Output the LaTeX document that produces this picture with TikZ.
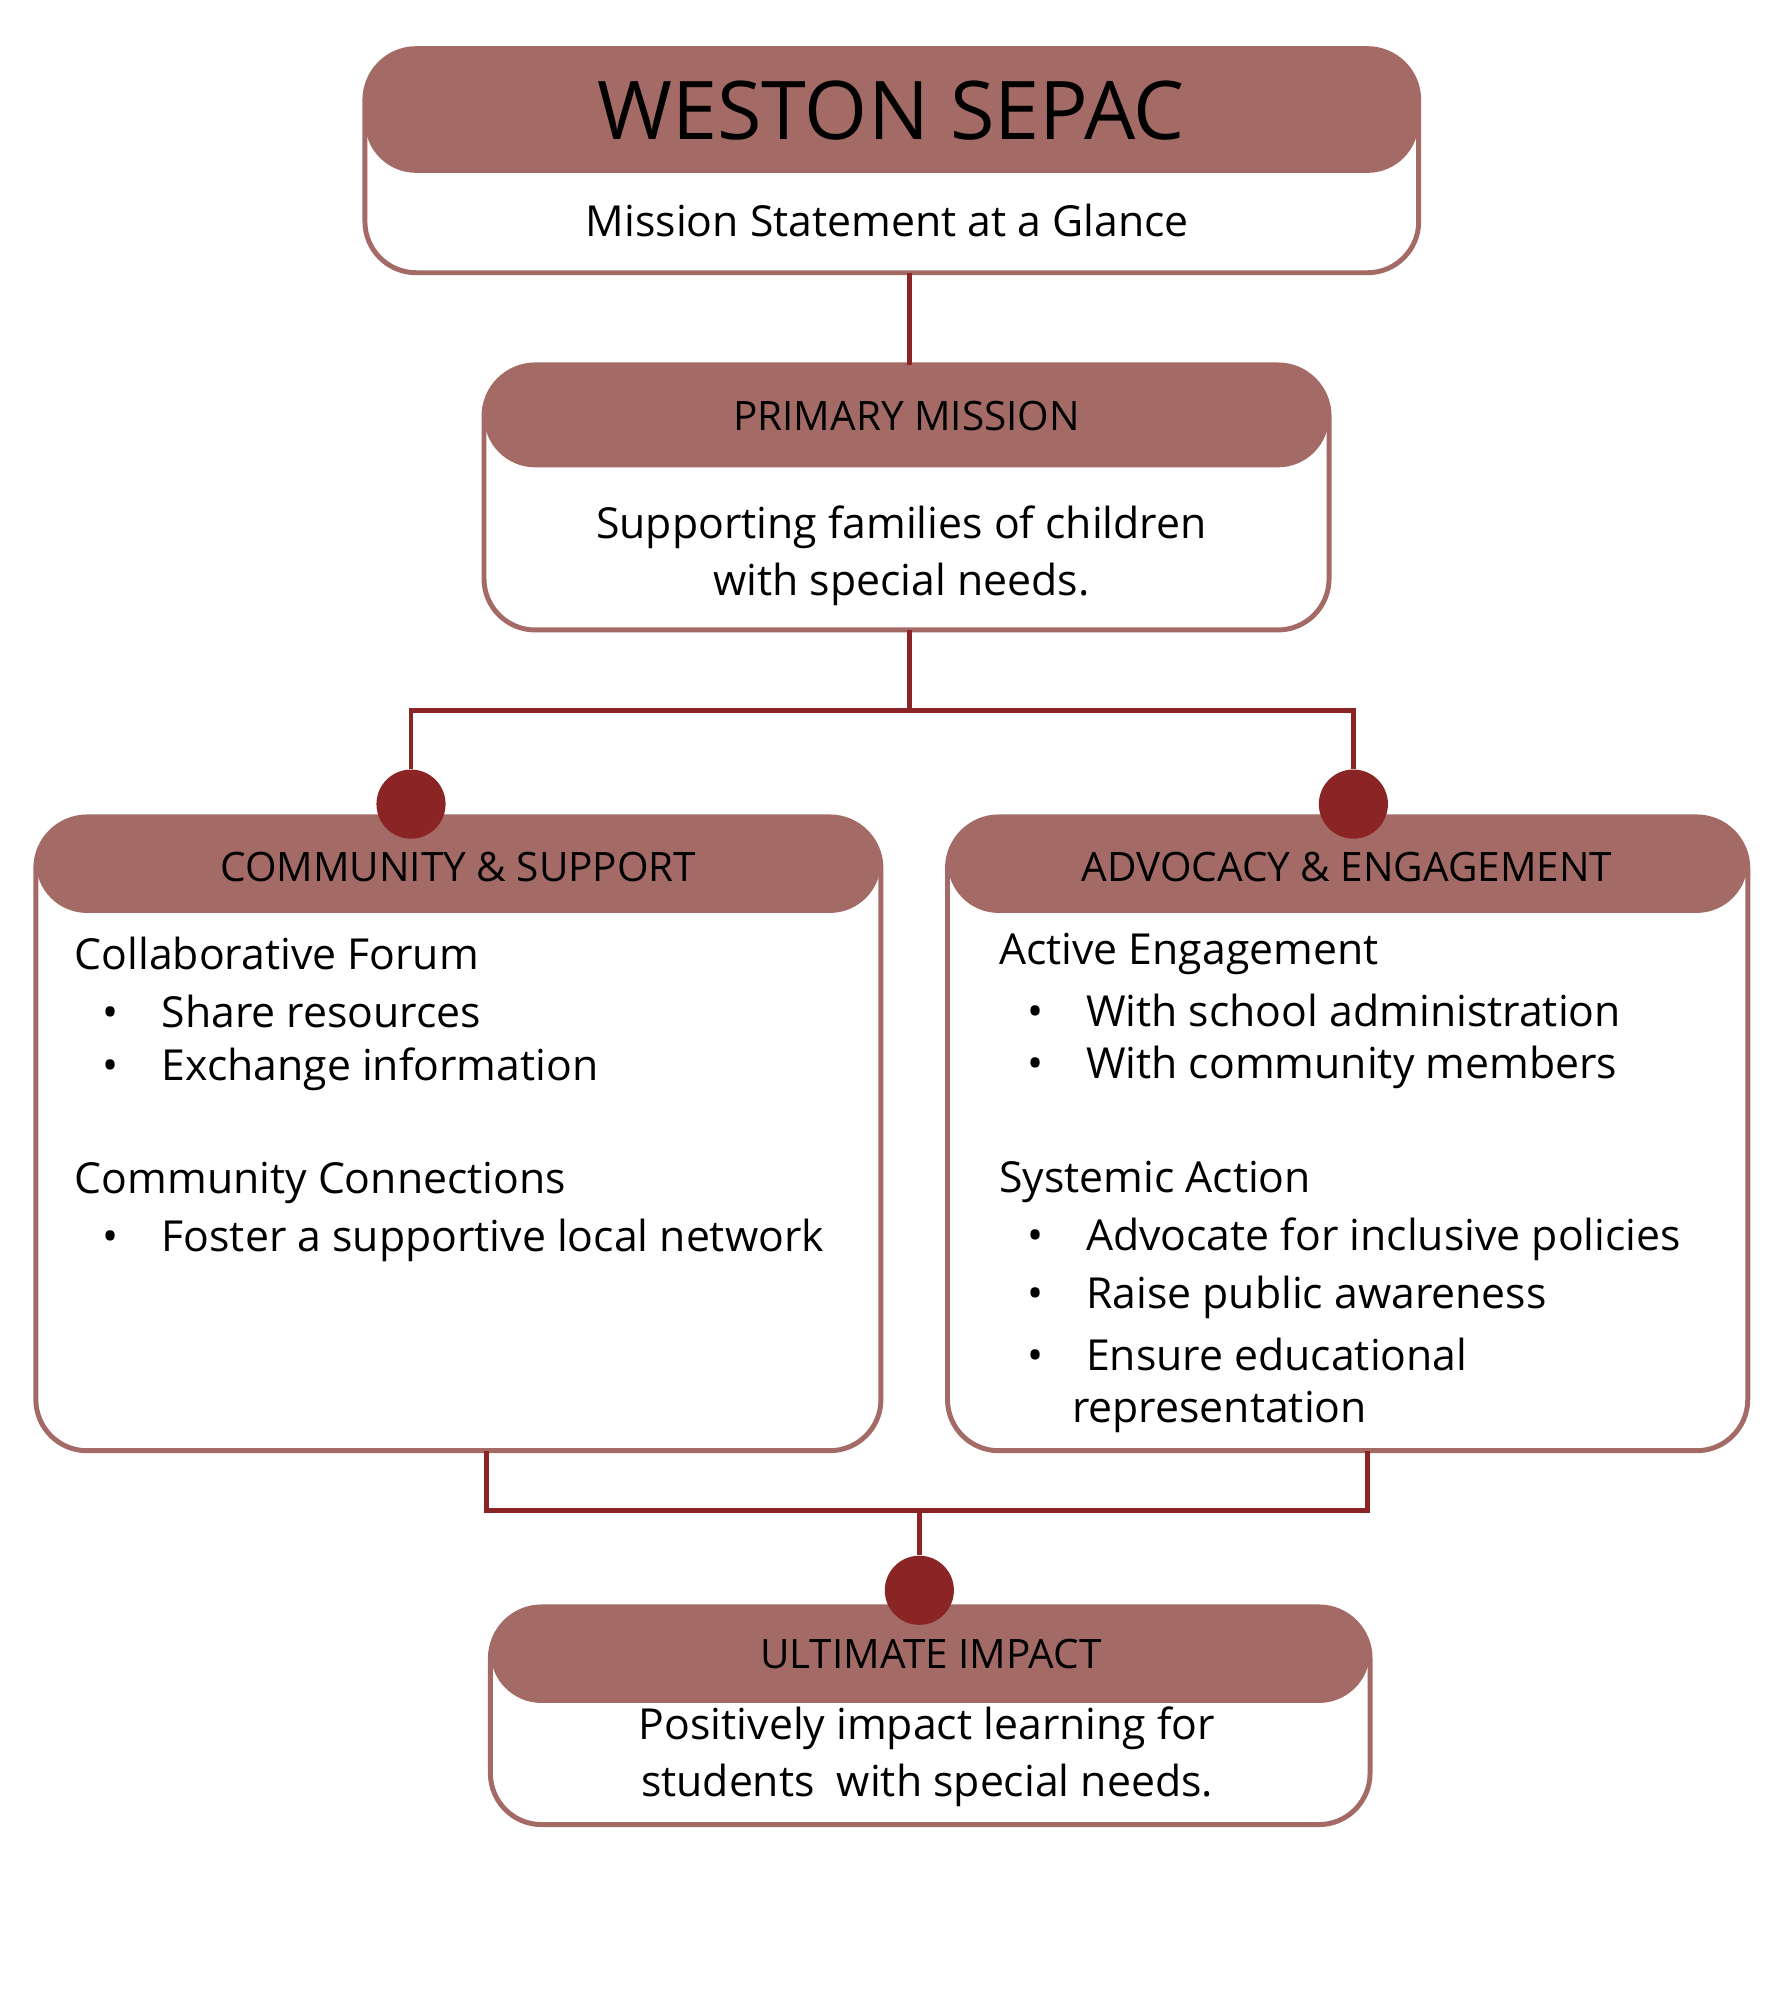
\documentclass[tikz,border=0pt]{standalone}
\usepackage{fontspec}
\setmainfont{Open Sans}
\usetikzlibrary{positioning}
\definecolor{rose}{HTML}{A36A66}
\definecolor{wine}{HTML}{8B2525}
\tikzset{
  box/.style={draw=rose, line width=2.2pt, fill=white, rounded corners=0.8cm},
  head/.style={fill=rose, rounded corners=0.8cm},
  link/.style={draw=wine, line width=2.2pt},
  dot/.style={circle, fill=wine, minimum size=1.08cm, inner sep=0pt},
  txt/.style={anchor=west, inner sep=0pt, font=\fontsize{19}{23}\selectfont},
  htxt/.style={inner sep=0pt, font=\fontsize{18}{22}\selectfont}
}
\begin{document}
\begin{tikzpicture}[x=0.02cm,y=-0.02cm]
\useasboundingbox (0,0) rectangle (1389,1562);
% boxes
\draw[box] (285,38) rectangle (1108,213);
\fill[head] (285,38) rectangle (1108,135);
\draw[box] (378,285) rectangle (1038,492);
\fill[head] (378,285) rectangle (1038,365);
\draw[box] (28,638) rectangle (688,1133);
\fill[head] (28,638) rectangle (688,713);
\draw[box] (740,638) rectangle (1365,1133);
\fill[head] (740,638) rectangle (1365,713);
\draw[box] (383,1255) rectangle (1070,1425);
\fill[head] (383,1255) rectangle (1070,1330);
% anchors
\coordinate (t1) at (710,213);
\coordinate (t2) at (710,285);
\coordinate (t3) at (710,492);
\coordinate (sp) at (710,555);
\node[dot] (dl) at (321,628) {};
\node[dot] (dr) at (1057,628) {};
\coordinate (bl) at (380,1133);
\coordinate (br) at (1068,1133);
\coordinate (jn) at (718,1180);
\node[dot] (db) at (718,1242) {};
% connectors
\draw[link] (t1) -- (t2);
\draw[link] (t3) -- (sp);
\draw[link] (sp) -| (dl.north) (sp) -| (dr.north);
\draw[link] (bl) |- (jn) -| (br);
\draw[link] (jn) -- (db);
% headers
\node[inner sep=0pt, font=\fontsize{36}{40}\selectfont] (title) at (696,86) {WESTON SEPAC};
\node[htxt] (hprim) at (708,325) {PRIMARY MISSION};
\node[htxt] (hcom) at (358,677) {COMMUNITY \& SUPPORT};
\node[htxt] (hadv) at (1052,677) {ADVOCACY \& ENGAGEMENT};
\node[htxt] (hult) at (727,1292) {ULTIMATE IMPACT};
% texts
\node[txt, anchor=center] (sub) at (693,172) {Mission Statement at a Glance};
\node[txt, anchor=center, align=center] (prim) at (704,434) {Supporting families of children\\[2pt]with special needs.};
\node[txt, anchor=center, align=center] (ult) at (724,1372) {Positively impact learning for\\[2pt]students\ \ with special needs.};
\node[txt] (c1) at (58,745) {Collaborative Forum};
\node[txt] (c2) at (80,790) {\textbullet\quad Share resources};
\node[txt] (c3) at (80,835) {\textbullet\quad Exchange information};
\node[txt] (c4) at (58,924) {Community Connections};
\node[txt] (c5) at (80,969) {\textbullet\quad Foster a supportive local network};
\node[txt] (a1) at (780,745) {Active Engagement};
\node[txt] (a2) at (802,789) {\textbullet\quad With school administration};
\node[txt] (a3) at (802,834) {\textbullet\quad With community members};
\node[txt] (a4) at (780,923) {Systemic Action};
\node[txt] (a5) at (802,968) {\textbullet\quad Advocate for inclusive policies};
\node[txt] (a6) at (802,1013) {\textbullet\quad Raise public awareness};
\node[txt] (a7) at (802,1058) {\textbullet\quad Ensure educational};
\node[txt] (a8) at (837,1103) {representation};
\end{tikzpicture}
\end{document}
